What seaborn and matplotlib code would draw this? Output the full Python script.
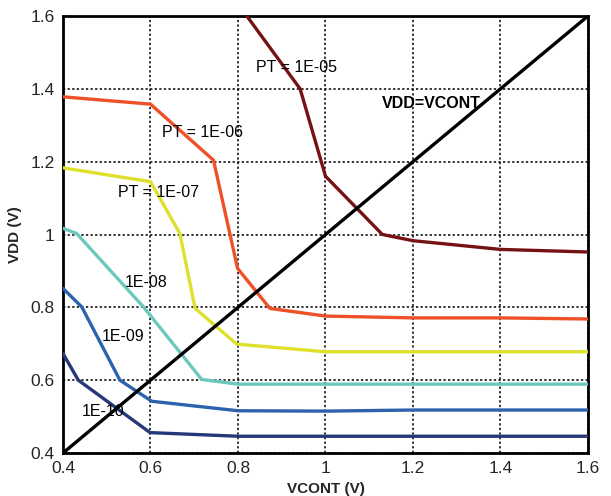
import matplotlib
matplotlib.use("Agg")
import matplotlib.pyplot as plt
import seaborn as sns
import pandas as pd

sns.set_theme(style="white")
plt.rcParams['font.family'] = ['Liberation Sans', 'DejaVu Sans']

# Data (VCONT, VDD) per PT level
pt05_x = [0.80, 0.942, 1.0, 1.13, 1.2, 1.4, 1.6]
pt05_y = [1.633, 1.40, 1.16, 1.0, 0.983, 0.959, 0.952]
pt06_x = [0.4, 0.6, 0.744, 0.799, 0.873, 1.0, 1.2, 1.4, 1.6]
pt06_y = [1.378, 1.358, 1.204, 0.907, 0.797, 0.776, 0.771, 0.771, 0.768]
pt07_x = [0.4, 0.6, 0.667, 0.702, 0.797, 1.0, 1.2, 1.4, 1.6]
pt07_y = [1.183, 1.145, 1.003, 0.797, 0.699, 0.678, 0.678, 0.678, 0.678]
pt08_x = [0.4, 0.431, 0.584, 0.717, 0.8, 1.0, 1.2, 1.4, 1.6]
pt08_y = [1.017, 1.003, 0.801, 0.602, 0.589, 0.589, 0.589, 0.589, 0.589]
pt09_x = [0.4, 0.443, 0.530, 0.603, 0.8, 1.0, 1.2, 1.4, 1.6]
pt09_y = [0.852, 0.801, 0.600, 0.542, 0.516, 0.515, 0.518, 0.518, 0.518]
pt10_x = [0.4, 0.435, 0.599, 0.8, 1.0, 1.2, 1.4, 1.6]
pt10_y = [0.673, 0.600, 0.456, 0.446, 0.446, 0.446, 0.446, 0.446]
diag_x = [0.4, 1.6]
diag_y = [0.4, 1.6]

series = [
    (pt05_x, pt05_y, "#751215"),
    (pt06_x, pt06_y, "#f05028"),
    (pt07_x, pt07_y, "#dfe02c"),
    (pt08_x, pt08_y, "#6cc8bd"),
    (pt09_x, pt09_y, "#2d63ae"),
    (pt10_x, pt10_y, "#263879"),
    (diag_x, diag_y, "#000000"),
]

labels = [
    (0.841, 1.458, "PT = 1E-05", "normal"),
    (0.626, 1.279, "PT = 1E-06", "normal"),
    (0.526, 1.116, "PT = 1E-07", "normal"),
    (0.542, 0.867, "1E-08", "normal"),
    (0.488, 0.719, "1E-09", "normal"),
    (0.443, 0.513, "1E-10", "normal"),
    (1.128, 1.360, "VDD=VCONT", "bold"),
]

xticks = [0.4, 0.6, 0.8, 1.0, 1.2, 1.4, 1.6]
yticks = [0.4, 0.6, 0.8, 1.0, 1.2, 1.4, 1.6]
tick_labels = ["0.4", "0.6", "0.8", "1", "1.2", "1.4", "1.6"]

fig = plt.figure(figsize=(6.11, 4.96), dpi=100)
ax = fig.add_axes([63/611, 1-453/496, 525/611, 437/496])

for xs, ys, c in series:
    df = pd.DataFrame({"x": xs, "y": ys})
    sns.lineplot(data=df, x="x", y="y", sort=False, estimator=None,
                 color=c, linewidth=2.4, ax=ax, zorder=3)

for x, y, t, w in labels:
    ax.text(x, y, t, fontsize=11.5, fontweight=w, va="center", ha="left",
            color="black", zorder=4)

ax.set_xlim(0.4, 1.6)
ax.set_ylim(0.4, 1.6)
ax.set_xticks(xticks)
ax.set_yticks(yticks)
ax.set_xticklabels(tick_labels, fontsize=12.5)
ax.set_yticklabels(tick_labels, fontsize=12.5)
ax.grid(True, color="black", linestyle=(0, (1.5, 1.5)), linewidth=1.1)
ax.set_axisbelow(True)
ax.tick_params(direction="out", length=4, width=1, color="black", pad=2)
for s in ax.spines.values():
    s.set_color("black")
    s.set_linewidth(2)
ax.set_xlabel("VCONT (V)", fontsize=11, fontweight="bold", labelpad=4)
ax.set_ylabel("VDD (V)", fontsize=11, fontweight="bold", labelpad=6)

fig.savefig("out.png", dpi=100)
